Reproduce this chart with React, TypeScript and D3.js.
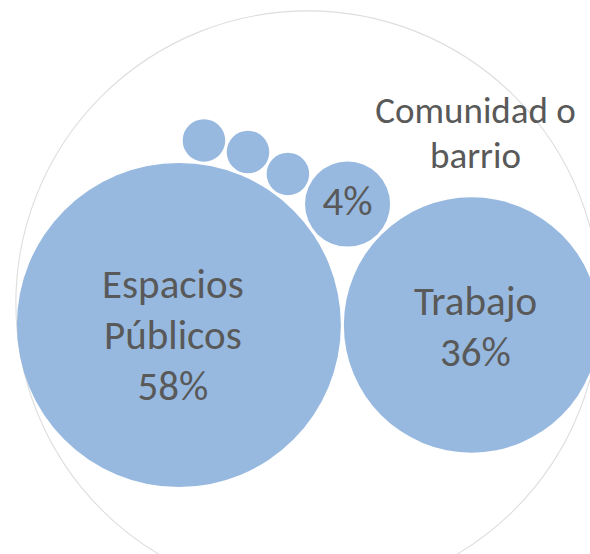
import React, { useEffect, useRef } from "react";
import * as d3 from "d3";

// ---- data ----
const categories = ["Espacios Públicos", "Trabajo", "Comunidad o barrio", "Otro 1", "Otro 2", "Otro 3"];
const values = [58, 36, 4, 1, 1, 1];
// how each category name is broken into lines when shown
const nameLines = [["Espacios", "Públicos"], ["Trabajo"], ["Comunidad o", "barrio"], [], [], []];
// where the label is drawn: inside the bubble with name, inside value only + name outside, or hidden
const labelMode = ["inside", "inside", "split", "none", "none", "none"];

// ---- layout / style ----
const W = 590;
const H = 554;
const CX = 308;
const CY = 325;
const PAD = 3;
const FILL = "#97B9E0";
const TEXT = "#595959";
const FONT = "Calibri, Carlito, Lato, 'Open Sans', sans-serif";
const labelStartDy = [-27, -10, 11, 0, 0, 0];
const labelDx = [-6, 4, 0, 0, 0, 0];
const LINE_H = 51;
const outsideDx = 128;
const outsideDy = -81;
const outsideLineH = 45;

export default function App() {
  const ref = useRef<SVGSVGElement | null>(null);

  useEffect(() => {
    const svg = d3.select(ref.current);
    svg.selectAll("*").remove();

    const rScale = d3.scaleSqrt().domain([0, d3.max(values) as number]).range([0, 162]);

    type N = { x: number; y: number; r: number; i: number };
    const nodes: N[] = values.map((v, i) => ({ x: 0, y: 0, r: rScale(v), i }));
    // first two side by side
    nodes[1].x = nodes[0].r + nodes[1].r + PAD;
    // each next bubble tangent to the first one and the previous one
    for (let i = 2; i < nodes.length; i++) {
      const A = nodes[0];
      const P = nodes[i - 1];
      const c = nodes[i];
      const dA = A.r + c.r + PAD;
      const dP = P.r + c.r + PAD;
      const d = Math.hypot(P.x - A.x, P.y - A.y);
      const a = (dA * dA - dP * dP + d * d) / (2 * d);
      const h = Math.sqrt(Math.max(0, dA * dA - a * a));
      const ux = (P.x - A.x) / d;
      const uy = (P.y - A.y) / d;
      c.x = A.x + a * ux + h * uy;
      c.y = A.y + a * uy - h * ux;
    }

    const enc = d3.packEnclose(nodes.map((n) => ({ x: n.x, y: n.y, r: n.r })));
    const tx = CX - enc.x;
    const ty = CY - enc.y;
    nodes.forEach((n) => {
      n.x += tx;
      n.y += ty;
    });

    // outer ring
    svg
      .append("circle")
      .attr("cx", enc.x + tx)
      .attr("cy", enc.y + ty - 22)
      .attr("r", enc.r + 1)
      .attr("fill", "none")
      .attr("stroke", "#DEDEDE")
      .attr("stroke-width", 1.1);

    svg
      .append("g")
      .selectAll("circle")
      .data(nodes)
      .join("circle")
      .attr("cx", (d) => d.x)
      .attr("cy", (d) => d.y)
      .attr("r", (d) => d.r)
      .attr("fill", FILL);

    const lg = svg.append("g").attr("font-family", FONT).attr("fill", TEXT).attr("text-anchor", "middle");

    nodes.forEach((n) => {
      const mode = labelMode[n.i];
      if (mode === "none") return;
      const pct = `${values[n.i]}%`;
      const lines = mode === "inside" ? [...nameLines[n.i], pct] : [pct];
      const lx = n.x + labelDx[n.i];
      const t = lg
        .append("text")
        .attr("x", lx)
        .attr("y", n.y + labelStartDy[n.i])
        .attr("font-size", 41);
      lines.forEach((ln, k) => {
        t.append("tspan").attr("x", lx).attr("dy", k === 0 ? 0 : LINE_H).text(ln);
      });
      if (mode === "split") {
        const t2 = lg
          .append("text")
          .attr("x", n.x + outsideDx)
          .attr("y", n.y + outsideDy)
          .attr("font-size", 37);
        nameLines[n.i].forEach((ln, k) => {
          t2.append("tspan").attr("x", n.x + outsideDx).attr("dy", k === 0 ? 0 : outsideLineH).text(ln);
        });
      }
    });
    void categories;
  }, []);

  return (
    <svg
      ref={ref}
      width={W}
      height={H}
      style={{ position: "fixed", left: 0, top: 0, background: "#fff", display: "block" }}
    />
  );
}
